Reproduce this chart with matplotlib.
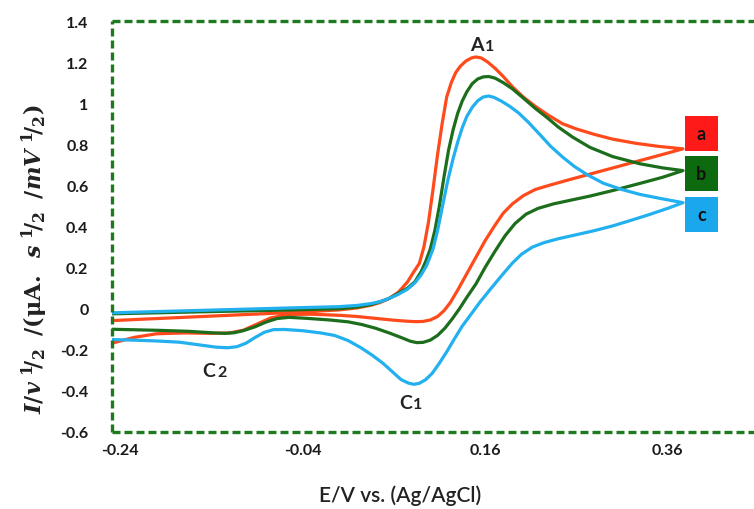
import matplotlib
matplotlib.use("Agg")
import matplotlib.pyplot as plt
from matplotlib.patches import Rectangle

# ---------------- data ----------------
# curve a (red): forward (anodic) branch then reverse (cathodic) branch
a_fwd_E = [-0.249, -0.20, -0.15, -0.10, -0.05, 0.00, 0.02, 0.035, 0.045, 0.055, 0.065, 0.075,
           0.082, 0.088, 0.093, 0.098, 0.103, 0.108, 0.113, 0.118, 0.123, 0.128, 0.133,
           0.139, 0.145, 0.150, 0.156, 0.163, 0.171, 0.180, 0.190, 0.202, 0.215, 0.230,
           0.245, 0.260, 0.280, 0.300, 0.325, 0.350, 0.377]
a_fwd_I = [-0.058, -0.048, -0.038, -0.028, -0.018, -0.006, 0.004, 0.017, 0.03, 0.05, 0.08, 0.13,
           0.18, 0.22, 0.30, 0.42, 0.58, 0.75, 0.90, 1.03, 1.10, 1.15, 1.18,
           1.205, 1.22, 1.225, 1.22, 1.20, 1.17, 1.13, 1.08, 1.03, 0.985, 0.94,
           0.90, 0.875, 0.848, 0.825, 0.805, 0.79, 0.778]
a_rev_E = [0.377, 0.350, 0.325, 0.300, 0.275, 0.250, 0.230, 0.215, 0.202, 0.190, 0.180, 0.170,
           0.160, 0.150, 0.140, 0.130, 0.122, 0.115, 0.108, 0.100, 0.092, 0.084, 0.075,
           0.060, 0.040, 0.020, 0.000, -0.030, -0.055, -0.075, -0.090, -0.105, -0.120,
           -0.140, -0.170, -0.200, -0.225, -0.249]
a_rev_I = [0.778, 0.745, 0.715, 0.685, 0.655, 0.625, 0.60, 0.58, 0.55, 0.51, 0.465, 0.40,
           0.33, 0.25, 0.17, 0.09, 0.03, -0.01, -0.038, -0.055, -0.062, -0.063, -0.061,
           -0.056, -0.047, -0.038, -0.032, -0.027, -0.028, -0.045, -0.075, -0.105, -0.118,
           -0.12, -0.118, -0.122, -0.14, -0.168]

# curve b (green)
b_fwd_E = [-0.249, -0.15, -0.05, 0.00, 0.02, 0.035, 0.045, 0.055, 0.065, 0.075, 0.083, 0.090,
           0.095, 0.100, 0.105, 0.110, 0.115, 0.120, 0.125, 0.130, 0.135, 0.140, 0.146,
           0.152, 0.158, 0.164, 0.171, 0.180, 0.190, 0.202, 0.215, 0.228, 0.240, 0.256,
           0.275, 0.300, 0.330, 0.355, 0.377]
b_fwd_I = [-0.025, -0.015, -0.006, 0.0, 0.008, 0.02, 0.034, 0.05, 0.075, 0.10, 0.13, 0.18,
           0.23, 0.29, 0.38, 0.50, 0.64, 0.77, 0.87, 0.95, 1.01, 1.055, 1.095,
           1.118, 1.128, 1.13, 1.122, 1.10, 1.07, 1.025, 0.975, 0.93, 0.885, 0.835,
           0.785, 0.74, 0.705, 0.685, 0.672]
b_rev_E = [0.377, 0.355, 0.330, 0.300, 0.275, 0.256, 0.235, 0.218, 0.205, 0.193, 0.182, 0.171,
           0.160, 0.150, 0.140, 0.132, 0.124, 0.116, 0.108, 0.100, 0.092, 0.085, 0.078,
           0.068, 0.055, 0.040, 0.025, 0.010, -0.010, -0.035, -0.055, -0.068, -0.080,
           -0.092, -0.105, -0.115, -0.125, -0.140, -0.165, -0.200, -0.249]
b_rev_I = [0.672, 0.64, 0.61, 0.575, 0.548, 0.53, 0.51, 0.488, 0.46, 0.415, 0.355, 0.28,
           0.20, 0.12, 0.055, 0.0, -0.05, -0.095, -0.13, -0.153, -0.164, -0.165, -0.158,
           -0.14, -0.118, -0.095, -0.077, -0.064, -0.055, -0.047, -0.042, -0.048, -0.065,
           -0.088, -0.107, -0.117, -0.12, -0.117, -0.11, -0.105, -0.10]

# curve c (blue)
c_fwd_E = [-0.249, -0.15, -0.06, 0.00, 0.02, 0.035, 0.045, 0.055, 0.065, 0.075, 0.083, 0.090,
           0.096, 0.103, 0.108, 0.113, 0.119, 0.125, 0.130, 0.135, 0.140, 0.146, 0.152,
           0.158, 0.164, 0.170, 0.178, 0.187, 0.197, 0.208, 0.220, 0.232, 0.245, 0.258,
           0.272, 0.290, 0.310, 0.330, 0.355, 0.377]
c_fwd_I = [-0.02, -0.008, 0.003, 0.01, 0.016, 0.025, 0.034, 0.05, 0.07, 0.095, 0.125, 0.165,
           0.21, 0.29, 0.38, 0.49, 0.62, 0.73, 0.81, 0.88, 0.935, 0.98, 1.012,
           1.03, 1.035, 1.028, 1.01, 0.985, 0.952, 0.905, 0.848, 0.79, 0.738, 0.692,
           0.652, 0.61, 0.58, 0.556, 0.534, 0.516]
c_rev_E = [0.377, 0.360, 0.340, 0.320, 0.300, 0.280, 0.260, 0.240, 0.225, 0.212, 0.200, 0.190,
           0.178, 0.165, 0.155, 0.145, 0.135, 0.126, 0.118, 0.110, 0.102, 0.095, 0.088,
           0.082, 0.076, 0.068, 0.058, 0.048, 0.036, 0.024, 0.010, -0.005, -0.020, -0.040,
           -0.060, -0.072, -0.082, -0.092, -0.102, -0.112, -0.122, -0.135, -0.150, -0.175,
           -0.200, -0.225, -0.249]
c_rev_I = [0.516, 0.488, 0.458, 0.43, 0.403, 0.38, 0.36, 0.34, 0.322, 0.3, 0.265, 0.222,
           0.16, 0.09, 0.035, -0.025, -0.085, -0.15, -0.21, -0.265, -0.315, -0.345, -0.363,
           -0.368, -0.362, -0.345, -0.305, -0.265, -0.225, -0.19, -0.155, -0.13, -0.118, -0.107,
           -0.101, -0.102, -0.115, -0.14, -0.168, -0.185, -0.19, -0.187, -0.178, -0.163,
           -0.157, -0.153, -0.15]

x_ticks = [-0.24, -0.04, 0.16, 0.36]
x_tick_labels = ["-0.24", "-0.04", "0.16", "0.36"]
y_ticks = [1.4, 1.2, 1.0, 0.8, 0.6, 0.4, 0.2, 0.0, -0.2, -0.4, -0.6]
y_tick_labels = ["1.4", "1.2", "1", "0.8", "0.6", "0.4", "0.2", "0", "-0.2", "-0.4", "-0.6"]

series_labels = ["a", "b", "c"]
line_colors = ["#FF4A1C", "#1C6E1C", "#22B0EE"]
box_colors = ["#FF1A1A", "#0E6A0E", "#1AA7EC"]
box_levels = [0.854, 0.659, 0.46]

peak_letters = ["A", "C", "C"]
peak_digits = ["1", "2", "1"]
peak_E = [0.157, -0.136, 0.079]
peak_I = [1.26, -0.327, -0.483]

# ---------------- style ----------------
plt.rcParams["font.family"] = ["Lato", "DejaVu Sans"]
plt.rcParams["mathtext.fontset"] = "custom"
plt.rcParams["mathtext.rm"] = "DejaVu Serif:bold"
plt.rcParams["mathtext.it"] = "DejaVu Serif:italic:bold"
plt.rcParams["mathtext.bf"] = "DejaVu Serif:bold"

fig = plt.figure(figsize=(7.54, 5.10), dpi=100)
ax = fig.add_axes([112 / 754, 77 / 510, 1 - 112 / 754, (433 - 22) / 510])

curves = [(a_fwd_E + a_rev_E, a_fwd_I + a_rev_I),
          (b_fwd_E + b_rev_E, b_fwd_I + b_rev_I),
          (c_fwd_E + c_rev_E, c_fwd_I + c_rev_I)]
for (E, I), col in zip(curves, line_colors):
    ax.plot(E, I, color=col, lw=2.3, solid_joinstyle="round", solid_capstyle="round")

ax.set_xlim(-0.2488, 0.4548)
ax.set_ylim(-0.6, 1.4)

ax.set_xticks(x_ticks)
ax.set_xticklabels(x_tick_labels)
ax.set_yticks(y_ticks)
ax.set_yticklabels(y_tick_labels)
ax.tick_params(axis="both", length=0, labelsize=11.5, colors="#1a1a1a")
ax.tick_params(axis="y", pad=17)
ax.tick_params(axis="x", pad=8)
for lab in ax.get_xticklabels() + ax.get_yticklabels():
    lab.set_fontweight("bold")

border = "#1E7A1E"
for side in ["left", "top", "bottom"]:
    sp = ax.spines[side]
    sp.set_color(border)
    sp.set_linewidth(2.4)
    sp.set_linestyle((0, (2.4, 1.2)))
    sp.set_capstyle("butt")
ax.spines["right"].set_visible(False)

# legend boxes at the end of the curves
bw, bh = 0.036, 0.17
for lab, bc, lv in zip(series_labels, box_colors, box_levels):
    ax.add_patch(Rectangle((0.379, lv - bh / 2), bw, bh, facecolor=bc, edgecolor="none",
                           zorder=5, clip_on=False))
    ax.text(0.379 + bw / 2, lv, lab, ha="center", va="center", fontsize=13,
            fontweight="bold", color="#111111", zorder=6)

# peak labels: capital letter followed by a smaller, baseline-aligned digit
for L, d, e, i in zip(peak_letters, peak_digits, peak_E, peak_I):
    ax.annotate(L, (e, i), xytext=(-4.2, 0), textcoords="offset points", ha="center",
                va="baseline", fontsize=14, fontweight="bold", color="#222222")
    ax.annotate(d, (e, i), xytext=(5.0, 0), textcoords="offset points", ha="center",
                va="baseline", fontsize=11.5, fontweight="bold", color="#222222")

fig.text(400 / 754, 1 - 496 / 510, "E/V vs. (Ag/AgCl)", ha="center", va="center",
         fontsize=15, color="#222222", fontweight="semibold")
fig.text(35 / 754, 1 - 259 / 510,
         r"$I/v^{\ 1}\!/_{2}\;\;/(\mathrm{\mu A.}\;\;s^{\ 1}\!/_{2}\;\;/mV^{\ 1}\!/_{2})$",
         rotation=90, ha="center", va="center", fontsize=16, color="#222222")

fig.savefig("out.png", dpi=100)
